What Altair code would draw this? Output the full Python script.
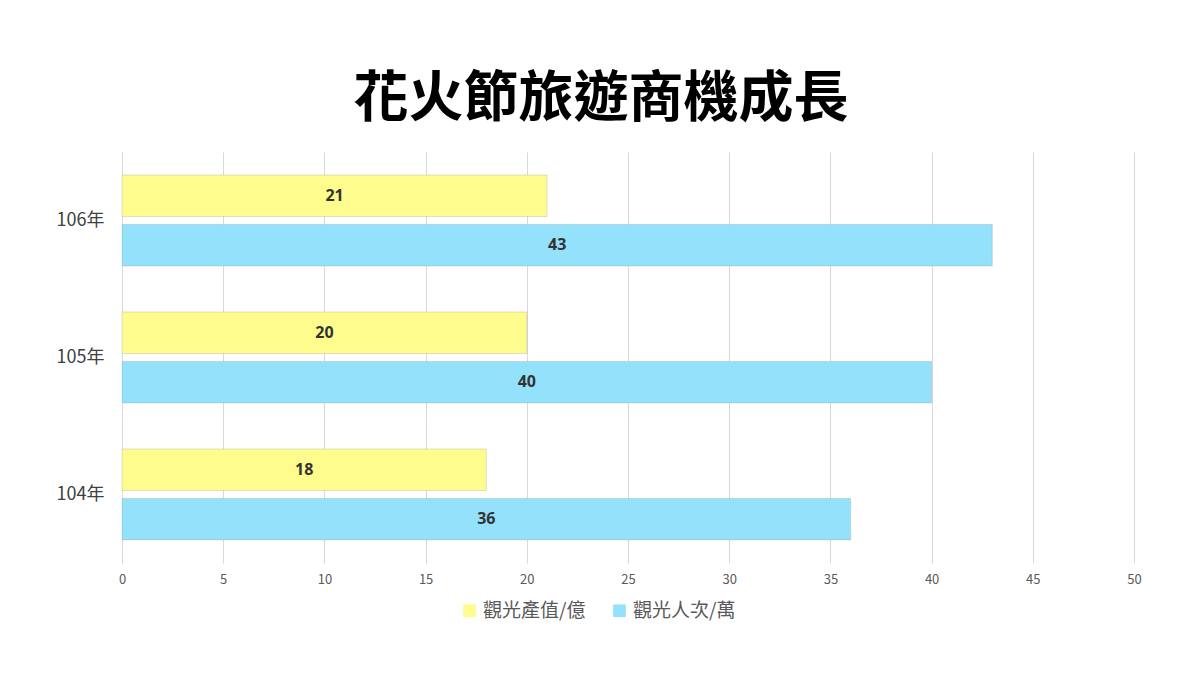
import altair as alt
import pandas as pd

years = ["106年", "105年", "104年"]
series = ["觀光產值/億", "觀光人次/萬"]
output_value = [21, 20, 18]
visitors = [43, 40, 36]
colors = ["#FDFC8C", "#93E1FA"]
x_ticks = [0, 5, 10, 15, 20, 25, 30, 35, 40, 45, 50]

rows = []
for i, y in enumerate(years):
    rows.append({"year": y, "series": series[0], "value": output_value[i]})
    rows.append({"year": y, "series": series[1], "value": visitors[i]})
df = pd.DataFrame(rows)

FONT = "Noto Sans CJK TC"

y_enc = alt.Y("year:N", sort=years, title=None,
              scale=alt.Scale(paddingInner=0.336, paddingOuter=0.168),
              axis=alt.Axis(domain=False, ticks=False, grid=False, labelFontSize=18,
                            labelColor="#404040", labelPadding=18, labelFont=FONT))
yoff = alt.YOffset("series:N", sort=series,
                   scale=alt.Scale(paddingInner=0.16, paddingOuter=0))

base = alt.Chart(df)

bars = base.mark_bar(stroke="#8a8a8a", strokeWidth=0.5, strokeOpacity=0.5).encode(
    x=alt.X("value:Q", title=None,
            scale=alt.Scale(domain=[0, 50], nice=False),
            axis=alt.Axis(values=x_ticks, domain=False, ticks=False,
                          gridColor="#d9d9d9", gridWidth=1, labelFlush=False,
                          labelFontSize=13, labelColor="#595959",
                          labelPadding=10, labelFont=FONT)),
    y=y_enc,
    yOffset=yoff,
    color=alt.Color("series:N", sort=series,
                    scale=alt.Scale(domain=series, range=colors),
                    legend=alt.Legend(title=None, orient="none",
                                      legendX=338, legendY=449,
                                      direction="horizontal",
                                      symbolType="square", symbolSize=160,
                                      symbolStrokeWidth=0,
                                      labelFontSize=19, labelColor="#595959",
                                      labelFont=FONT, columnPadding=24,
                                      labelOffset=4)),
)

labels = base.transform_calculate(mid="datum.value / 2").mark_text(
    fontWeight="bold", fontSize=16, color="#333333", font="Open Sans"
).encode(
    x=alt.X("mid:Q"),
    y=alt.Y("year:N", sort=years),
    yOffset=yoff,
    text=alt.Text("value:Q"),
)

chart = alt.layer(bars, labels).properties(
    width=1012, height=411,
    background="white",
    title=alt.TitleParams("花火節旅遊商機成長", fontSize=55, fontWeight="bold",
                          font=FONT, color="#000000", anchor="middle",
                          dx=-27, offset=24),
    autosize=alt.AutoSizeParams(type="none"),
    padding={"left": 114, "top": 144, "right": 50, "bottom": 100},
).configure_view(stroke="transparent", strokeWidth=0).configure_axisY(grid=False)

chart.save("out.html", embed_options={"renderer": "svg", "actions": False})
